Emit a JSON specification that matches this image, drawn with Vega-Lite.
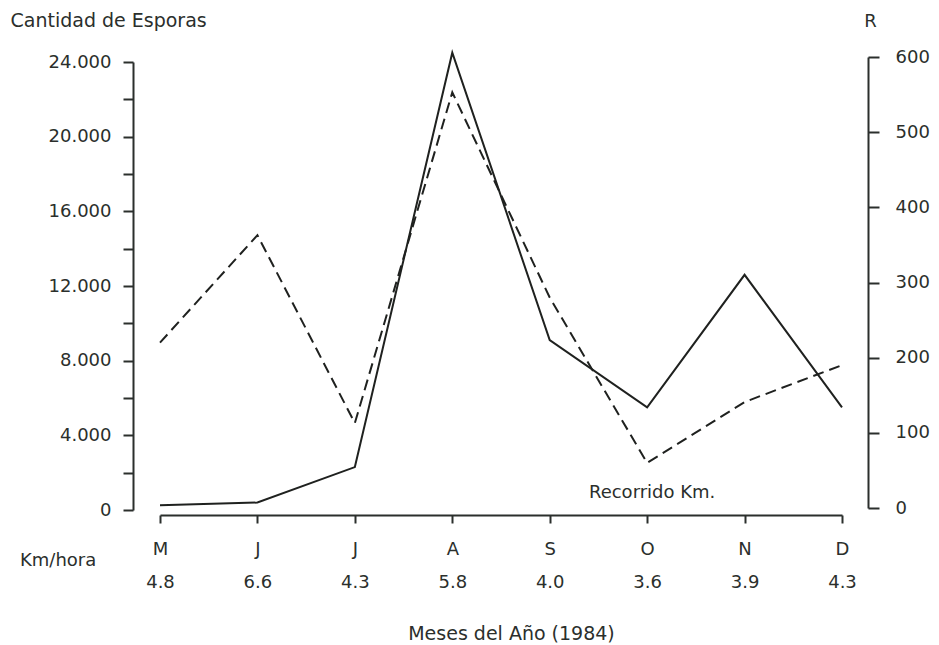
{
  "$schema": "https://vega.github.io/schema/vega-lite/v6.json",
  "width": 682,
  "height": 448,
  "autosize": "none",
  "padding": {"left": 160, "top": 62, "right": 97, "bottom": 135},
  "background": "white",
  "config": {
    "view": {"stroke": null},
    "font": "DejaVu Sans",
    "axis": {
      "grid": false,
      "domainColor": "#2b2f2c",
      "tickColor": "#2b2f2c",
      "labelColor": "#2b2f2c",
      "titleColor": "#2b2f2c",
      "domainWidth": 2,
      "tickWidth": 2,
      "labelFont": "DejaVu Sans",
      "titleFont": "DejaVu Sans",
      "titleFontWeight": "normal",
      "labelFontSize": 18,
      "titleFontSize": 18
    }
  },
  "title": {
    "text": "Km/hora",
    "orient": "bottom",
    "anchor": "start",
    "frame": "group",
    "dx": -140,
    "dy": -86,
    "baseline": "middle",
    "font": "DejaVu Sans",
    "fontSize": 18,
    "fontWeight": "normal",
    "color": "#2b2f2c"
  },
  "data": {
    "values": [
      {"eje": "M|4.8", "esporas": 250, "recorrido": 220},
      {"eje": "J|6.6", "esporas": 400, "recorrido": 363},
      {"eje": "J|4.3", "esporas": 2300, "recorrido": 113},
      {"eje": "A|5.8", "esporas": 24500, "recorrido": 553},
      {"eje": "S|4.0", "esporas": 9100, "recorrido": 280},
      {"eje": "O|3.6", "esporas": 5500, "recorrido": 60},
      {"eje": "N|3.9", "esporas": 12600, "recorrido": 141},
      {"eje": "D|4.3", "esporas": 5500, "recorrido": 190}
    ]
  },
  "encoding": {
    "x": {
      "field": "eje",
      "type": "ordinal",
      "sort": null,
      "scale": {"type": "point", "padding": 0},
      "axis": {
        "title": "Meses del Año (1984)",
        "titleFontSize": 19,
        "labelExpr": "split(datum.label, '|')",
        "labelAngle": 0,
        "labelAlign": "center",
        "labelBaseline": "top",
        "labelLineHeight": 33,
        "offset": 5,
        "tickSize": 8,
        "labelPadding": 17,
        "titleX": 351,
        "titleY": 118,
        "titleAlign": "center",
        "titleBaseline": "middle"
      }
    }
  },
  "layer": [
    {
      "mark": {"type": "line", "color": "#1f211f", "strokeWidth": 2},
      "encoding": {
        "y": {
          "field": "esporas",
          "type": "quantitative",
          "scale": {"domain": [0, 24000], "nice": false},
          "axis": {
            "orient": "left",
            "offset": 27,
            "tickSize": 10,
            "labelPadding": 12,
            "values": [0, 2000, 4000, 6000, 8000, 10000, 12000, 14000, 16000, 18000, 20000, 22000, 24000],
            "labelExpr": "datum.value % 4000 == 0 ? replace(format(datum.value, ','), ',', '.') : ''",
            "title": "Cantidad de Esporas",
            "titleFontSize": 19,
            "titleAngle": 0,
            "titleAlign": "left",
            "titleBaseline": "middle",
            "titleX": -123,
            "titleY": -42
          }
        }
      }
    },
    {
      "encoding": {
        "y": {
          "field": "recorrido",
          "type": "quantitative",
          "scale": {"domain": [0, 600], "nice": false, "range": [446, -5]},
          "axis": {
            "orient": "right",
            "offset": 26,
            "tickSize": 11,
            "labelPadding": 16,
            "values": [0, 100, 200, 300, 400, 500, 600],
            "title": "R",
            "titleAngle": 0,
            "titleAlign": "center",
            "titleBaseline": "middle",
            "titleX": 2,
            "titleY": -41
          }
        }
      },
      "layer": [
        {
          "mark": {"type": "line", "color": "#1f211f", "strokeWidth": 2, "strokeDash": [11, 6]}
        },
        {
          "data": {"values": [{"eje": "O|3.6", "recorrido": 20, "texto": "Recorrido Km."}]},
          "mark": {"type": "text", "font": "DejaVu Sans", "fontSize": 18, "color": "#2b2f2c", "dx": 5, "baseline": "middle"},
          "encoding": {"text": {"field": "texto"}}
        }
      ]
    }
  ],
  "resolve": {"scale": {"y": "independent"}, "axis": {"y": "independent"}}
}
